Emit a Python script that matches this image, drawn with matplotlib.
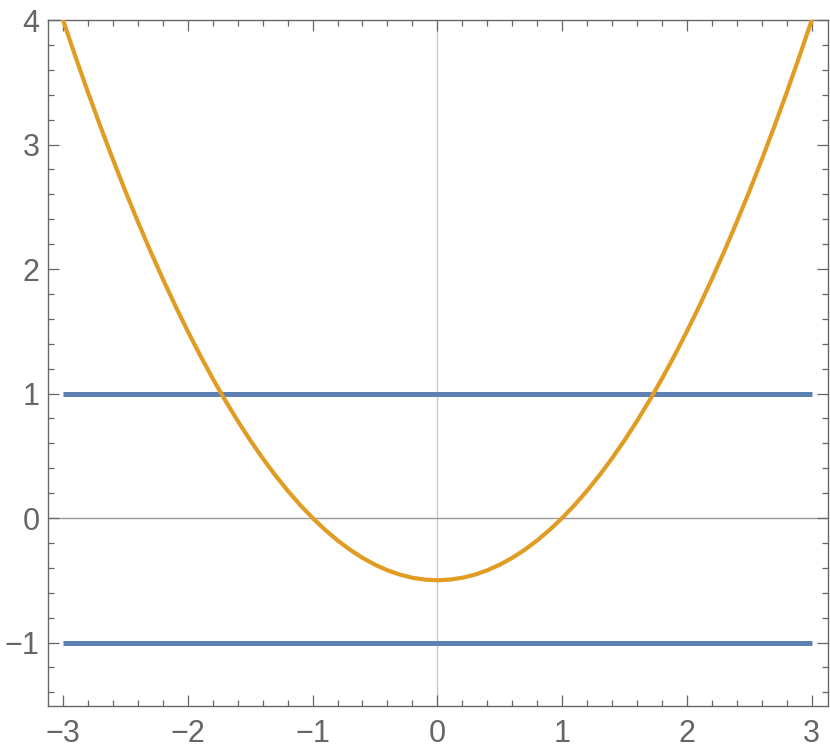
import matplotlib
matplotlib.use("Agg")
import matplotlib.pyplot as plt
from matplotlib.ticker import MultipleLocator, FuncFormatter

# parabola (orange curve), step 0.1
x_curve = [-3.0, -2.9, -2.8, -2.7, -2.6, -2.5, -2.4, -2.3, -2.2, -2.1,
           -2.0, -1.9, -1.8, -1.7, -1.6, -1.5, -1.4, -1.3, -1.2, -1.1,
           -1.0, -0.9, -0.8, -0.7, -0.6, -0.5, -0.4, -0.3, -0.2, -0.1,
           0.0, 0.1, 0.2, 0.3, 0.4, 0.5, 0.6, 0.7, 0.8, 0.9,
           1.0, 1.1, 1.2, 1.3, 1.4, 1.5, 1.6, 1.7, 1.8, 1.9,
           2.0, 2.1, 2.2, 2.3, 2.4, 2.5, 2.6, 2.7, 2.8, 2.9, 3.0]
y_curve = [4.0, 3.705, 3.42, 3.145, 2.88, 2.625, 2.38, 2.145, 1.92, 1.705,
           1.5, 1.305, 1.12, 0.945, 0.78, 0.625, 0.48, 0.345, 0.22, 0.105,
           0.0, -0.095, -0.18, -0.255, -0.32, -0.375, -0.42, -0.455, -0.48, -0.495,
           -0.5, -0.495, -0.48, -0.455, -0.42, -0.375, -0.32, -0.255, -0.18, -0.095,
           0.0, 0.105, 0.22, 0.345, 0.48, 0.625, 0.78, 0.945, 1.12, 1.305,
           1.5, 1.705, 1.92, 2.145, 2.38, 2.625, 2.88, 3.145, 3.42, 3.705, 4.0]
# horizontal blue lines
x_span = [-3.0, 3.0]
y_levels = [1.0, -1.0]

BLUE = "#5E81B5"
ORANGE = "#E19C24"
GRAY = "#666666"

plt.rcParams["font.family"] = ["Liberation Sans", "DejaVu Sans"]
fig = plt.figure(figsize=(8.3, 7.55), dpi=100)
ax = fig.add_axes([48/830, 1 - 706/755, (828-48)/830, (706-20)/755])

ax.axvline(0, color="#c8c8c8", lw=1.0, zorder=1)
ax.axhline(0, color="#999999", lw=1.0, zorder=1)
for y in y_levels:
    ax.plot(x_span, [y, y], color=BLUE, lw=3.6, solid_capstyle="butt", zorder=2)
ax.plot(x_curve, y_curve, color=ORANGE, lw=3.0, zorder=3)

ax.set_xlim(-3.12, 3.13)
ax.set_ylim(-1.51, 4.0)
fmt = FuncFormatter(lambda v, p: f"{v:.0f}".replace("-", "\u2212"))
for axis in (ax.xaxis, ax.yaxis):
    axis.set_major_locator(MultipleLocator(1))
    axis.set_minor_locator(MultipleLocator(0.2))
    axis.set_major_formatter(fmt)

ax.tick_params(which="both", direction="in", top=True, right=True, color=GRAY,
               labelcolor=GRAY, labelsize=22, width=0.9)
ax.tick_params(which="major", length=8)
ax.tick_params(which="minor", length=4)
ax.tick_params(axis="x", pad=9)
ax.tick_params(axis="y", pad=6)
for s in ax.spines.values():
    s.set_color(GRAY)
    s.set_linewidth(1.0)

fig.savefig("out.png", dpi=100)
